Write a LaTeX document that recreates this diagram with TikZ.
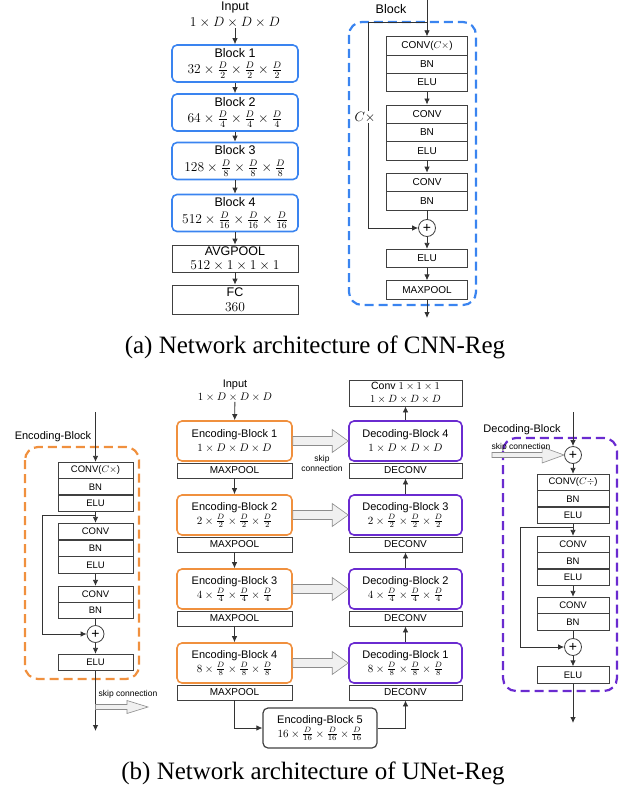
\documentclass[tikz,border=0pt]{standalone}
\usepackage{fix-cm}
\usepackage{fontspec}
\setmainfont{Liberation Serif}
\setsansfont{Liberation Sans}
\usetikzlibrary{arrows.meta,calc}
\definecolor{blockblue}{HTML}{3A84F0}
\definecolor{encorange}{HTML}{F0903E}
\definecolor{decpurple}{HTML}{6A2BD0}
\definecolor{boxgray}{HTML}{404040}
\definecolor{skipfill}{HTML}{F0F0F0}
\definecolor{skipdraw}{HTML}{8C8C8C}
\tikzset{
  bigtxt/.style={font=\sffamily\fontsize{12.5}{16.5}\selectfont, align=center, inner sep=0pt},
  midtxt/.style={font=\sffamily\fontsize{11}{14}\selectfont, align=center, inner sep=0pt},
  smalltxt/.style={font=\sffamily\fontsize{10}{12}\selectfont, align=center, inner sep=0pt},
  tinytxt/.style={font=\sffamily\fontsize{8.5}{10}\selectfont, align=center, inner sep=0pt},
  netblock/.style={draw=#1, line width=1.6pt, rounded corners=5pt},
  plainbox/.style={draw=boxgray, line width=0.8pt},
  plus/.style={circle, draw=boxgray, line width=0.8pt, minimum size=17pt, inner sep=0pt, font=\sffamily\fontsize{14}{14}\selectfont},
  frame/.style={draw=#1, line width=2.2pt, dash pattern=on 9pt off 5pt, rounded corners=13pt},
  ln/.style={draw=black!80, line width=0.8pt},
  arr/.style={ln, -{Latex[length=6pt,width=5.5pt]}}
}
% bigger maths for part (a)
\newcommand{\amath}[1]{{\fontsize{13.5}{16.5}\selectfont$#1$}}
% hollow skip arrow: start, tip, half shaft, half head, head length
\newcommand{\skiparrow}[5]{%
  \filldraw[fill=skipfill, draw=skipdraw, line width=0.6pt, line join=miter]
    ($(#1)+(0,-#3)$) -- ($(#2)+(-#5,-#3)$) -- ($(#2)+(-#5,-#4)$) -- (#2)
    -- ($(#2)+(-#5,#4)$) -- ($(#2)+(-#5,#3)$) -- ($(#1)+(0,#3)$) -- cycle;}
\begin{document}
\begin{tikzpicture}[x=1pt,y=-1pt]
\useasboundingbox (0,0) rectangle (629,792);

% (a) CNN-Reg
\node[bigtxt] (aInput) at (235,15) {Input\\\amath{1\times D\times D\times D}};
\foreach \i/\c/\d/\y in {1/32/2/63.5,2/64/4/112.5,3/128/8/161,4/512/16/213}
  \node[netblock=blockblue, bigtxt, minimum width=126pt, minimum height=37pt] (aB\i) at (235,\y) {Block \i\\\amath{\c\times\frac{D}{\d}\times\frac{D}{\d}\times\frac{D}{\d}}};
\node[plainbox, bigtxt, minimum width=126pt, minimum height=27pt] (aPool) at (235,258.5) {AVGPOOL\\[-2pt]\amath{512\times1\times1\times1}};
\node[plainbox, bigtxt, minimum width=126pt, minimum height=29pt] (aFC) at (235,299.5) {FC\\[-2pt]\amath{360}};
\draw[arr] (aInput) -- (aB1);
\foreach \i [evaluate=\i as \j using int(\i+1)] in {1,2,3} \draw[arr] (aB\i) -- (aB\j);
\draw[arr] (aB4) -- (aPool);
\draw[arr] (aPool) -- (aFC);

% (a) block detail
\draw[frame=blockblue] (349,22) rectangle (476,305);
\node[bigtxt] (aBlockLbl) at (391,9) {Block};
\foreach \txt/\y [count=\i] in {CONV($C\times$)/46,BN/64.5,ELU/82.5,CONV/114.2,BN/132.5,ELU/150.8,CONV/182.3,BN/200.8,ELU/258.5,MAXPOOL/290}
  \node[plainbox, smalltxt, minimum width=81pt, minimum height=18.5pt] (a\i) at (427,\y) {\txt};
\node[plus] (aPlus) at (427,228) {+};
\coordinate (aIn) at (427,0);
\coordinate (aSplit) at (427,22);
\coordinate (aOut) at (427,318);
\draw[arr] (aIn) -- (a1);
\draw[arr] (aSplit) -- (368,22) -- (368,228) -- (aPlus);
\node[bigtxt, fill=white, inner sep=1pt] (aCx) at (365,117) {\amath{C\times}};
\draw[arr] (a3) -- (a4);
\draw[arr] (a6) -- (a7);
\draw[ln] (a8) -- (aPlus);
\draw[arr] (aPlus) -- (a9);
\draw[arr] (a9) -- (a10);
\draw[arr] (a10) -- (aOut);

\node[font=\fontsize{25}{30}\selectfont] (capA) at (315,347) {(a) Network architecture of CNN-Reg};

% (b) UNet-Reg
\node[midtxt] (bInput) at (235,391) {Input\\[-1pt]$1\times D\times D\times D$};
\foreach \i/\c [evaluate=\i as \y using 441+74*(\i-1), evaluate=\i as \k using int(5-\i)] in
  {1/{1\times D\times D\times D},2/{2\times\frac{D}{2}\times\frac{D}{2}\times\frac{D}{2}},
   3/{4\times\frac{D}{4}\times\frac{D}{4}\times\frac{D}{4}},4/{8\times\frac{D}{8}\times\frac{D}{8}\times\frac{D}{8}}} {
  \node[netblock=encorange, midtxt, minimum width=115pt, minimum height=40pt] (e\i) at (234.5,\y) {Encoding-Block \i\\$\c$};
  \node[plainbox, smalltxt, minimum width=115pt, minimum height=15pt] (ep\i) at (234.5,\y+29.5) {MAXPOOL};
  \node[netblock=decpurple, midtxt, minimum width=113pt, minimum height=40pt] (d\i) at (405.5,\y) {Decoding-Block \k\\$\c$};
  \node[plainbox, smalltxt, minimum width=113pt, minimum height=15pt] (dp\i) at (405.5,\y+29.5) {DECONV};
  \skiparrow{e\i.east}{d\i.west}{4.5}{11.5}{16}
}
\node[tinytxt] (bSkipLbl) at (322,463) {skip\\connection};
\node[netblock=boxgray, line width=1.2pt, midtxt, minimum width=114pt, minimum height=40pt] (e5) at (320,728) {Encoding-Block 5\\$16\times\frac{D}{16}\times\frac{D}{16}\times\frac{D}{16}$};
\node[plainbox, font=\sffamily\fontsize{10.5}{12.5}\selectfont, align=center, inner sep=0pt, minimum width=113pt, minimum height=26pt] (bConv) at (405.5,393) {Conv $1\times1\times1$\\$1\times D\times D\times D$};
\draw[arr] (bInput) -- (e1);
\foreach \i [evaluate=\i as \j using int(\i+1)] in {1,2,3} {
  \draw[arr] (ep\i) -- (e\j);
  \draw[arr] (d\j) -- (dp\i);
}
\draw[arr] (ep4) |- (e5);
\draw[arr] (e5) -| (dp4);
\draw[arr] (d1) -- (bConv);

% (b) encoding block detail
\draw[frame=encorange] (25,447) rectangle (139,679);
\node[midtxt] (lLbl) at (53,437) {Encoding-Block};
\foreach \txt/\y [count=\i] in {CONV($C\times$)/470.5,BN/487,ELU/503,CONV/531.5,BN/548.5,ELU/565,CONV/594.5,BN/610.5,ELU/662.5}
  \node[plainbox, smalltxt, font=\sffamily\fontsize{9.5}{11}\selectfont, minimum width=75pt, minimum height=16.5pt] (l\i) at (95.5,\y) {\txt};
\node[plus] (lPlus) at (95.5,634) {+};
\coordinate (lIn) at (95.5,412);
\coordinate (lSplit) at (95.5,515);
\coordinate (lOut) at (95.5,731);
\coordinate (lSkipStart) at (95.5,707);
\coordinate (lSkipEnd) at (148,707);
\draw[arr] (lIn) -- (l1);
\draw[arr] (l3) -- (l4);
\draw[arr] (lSplit) -- (42,515) -- (42,634) -- (lPlus);
\draw[arr] (l6) -- (l7);
\draw[ln] (l8) -- (lPlus);
\draw[arr] (lPlus) -- (l9);
\draw[arr] (l9) -- (lOut);
\skiparrow{lSkipStart}{lSkipEnd}{2.5}{6.5}{21}
\node[tinytxt] (lSkipLbl) at (128,694) {skip connection};

% (b) decoding block detail
\draw[frame=decpurple] (503,438) rectangle (617,691);
\node[midtxt] (rLbl) at (522,430) {Decoding-Block};
\foreach \txt/\y [count=\i] in {CONV($C\div$)/482.5,BN/499,ELU/515,CONV/544.5,BN/561,ELU/577,CONV/605.5,BN/622,ELU/675}
  \node[plainbox, smalltxt, font=\sffamily\fontsize{9.5}{11}\selectfont, minimum width=72pt, minimum height=16.5pt] (r\i) at (573,\y) {\txt};
\node[plus] (rTop) at (573,455) {+};
\node[plus] (rPlus) at (573,647) {+};
\coordinate (rIn) at (573,412);
\coordinate (rSplit) at (573,527);
\coordinate (rOut) at (573,723);
\coordinate (rSkipStart) at (492,455);
\draw[arr] (rIn) -- (rTop);
\draw[arr] (rTop) -- (r1);
\draw[arr] (r3) -- (r4);
\draw[arr] (rSplit) -- (520,527) -- (520,647) -- (rPlus);
\draw[arr] (r6) -- (r7);
\draw[ln] (r8) -- (rPlus);
\draw[arr] (rPlus) -- (r9);
\draw[arr] (r9) -- (rOut);
\skiparrow{rSkipStart}{rTop.west}{2.5}{8}{22}
\node[tinytxt] (rSkipLbl) at (521,447) {skip connection};

\node[font=\fontsize{25}{30}\selectfont] (capB) at (313,773) {(b) Network architecture of UNet-Reg};
\end{tikzpicture}
\end{document}
